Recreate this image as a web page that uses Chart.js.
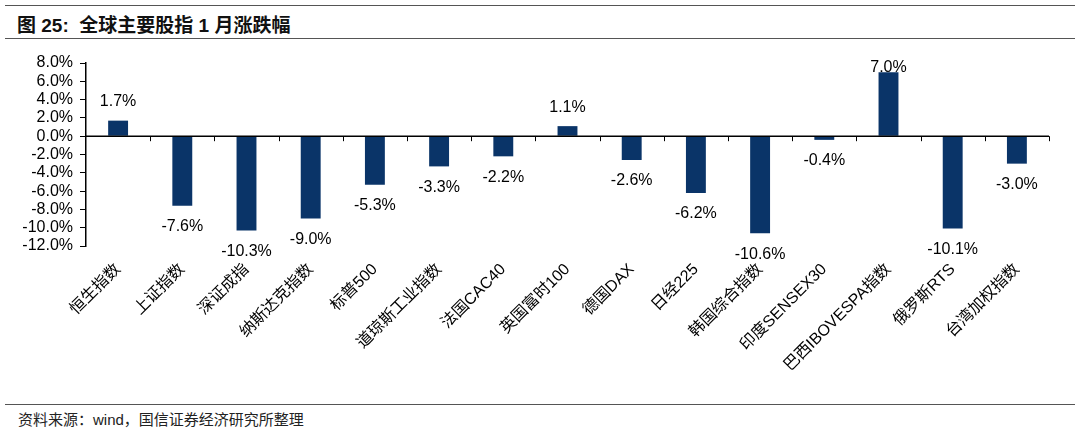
<!DOCTYPE html>
<html><head><meta charset="utf-8">
<script src="https://cdn.jsdelivr.net/npm/chart.js@4/dist/chart.umd.min.js"></script>
<style>
html,body{margin:0;padding:0;background:#fff;width:1080px;height:434px;overflow:hidden;font-family:"Liberation Sans","Noto Sans CJK SC",sans-serif;}
.rule{position:absolute;left:5px;right:5px;height:1px;background:#555;}
#title{position:absolute;left:17px;top:10px;font-size:19px;font-weight:bold;color:#111;font-family:"Liberation Sans","Noto Sans CJK SC",sans-serif;}
#foot{position:absolute;left:18px;top:408px;font-size:15px;color:#222;}
#wrap{position:absolute;left:0;top:40px;width:1080px;height:360px;}
</style></head><body>
<div class="rule" style="top:5px"></div>
<div id="title">图 25:&nbsp; 全球主要股指 1 月涨跌幅</div>
<div class="rule" style="top:38px"></div>
<div id="wrap"><canvas id="c"></canvas></div>
<div class="rule" style="top:404px"></div>
<div id="foot">资料来源：wind，国信证券经济研究所整理</div>
<script>
const categories = ["恒生指数","上证指数","深证成指","纳斯达克指数","标普500","道琼斯工业指数","法国CAC40","英国富时100","德国DAX","日经225","韩国综合指数","印度SENSEX30","巴西IBOVESPA指数","俄罗斯RTS","台湾加权指数"];
const changes = [1.7,-7.6,-10.3,-9.0,-5.3,-3.3,-2.2,1.1,-2.6,-6.2,-10.6,-0.4,7.0,-10.1,-3.0];
const yMin = -12, yMax = 8, yStep = 2;

const FONT = '"Liberation Sans","Noto Sans CJK SC",sans-serif';

const zeroLine = {
  id:'zeroLine',
  afterDatasetsDraw(chart){
    const {ctx, chartArea, scales} = chart;
    const y = scales.y.getPixelForValue(0);
    ctx.save();
    ctx.strokeStyle = '#000'; ctx.lineWidth = 1.5;
    ctx.beginPath(); ctx.moveTo(chartArea.left, y); ctx.lineTo(chartArea.right, y); ctx.stroke();
    const n = categories.length;
    const w = (chartArea.right - chartArea.left) / n;
    ctx.lineWidth = 1;
    ctx.beginPath();
    for (let i = 1; i <= n; i++) {
      const x = Math.round(chartArea.left + i * w) + 0.5;
      ctx.moveTo(x, y); ctx.lineTo(x, y + 5);
    }
    ctx.stroke();
    ctx.restore();
  }
};
const valueLabels = {
  id:'valueLabels',
  afterDatasetsDraw(chart){
    const {ctx, chartArea} = chart;
    const meta = chart.getDatasetMeta(0);
    ctx.save();
    ctx.font = '16px ' + FONT;
    ctx.fillStyle = '#000';
    ctx.textAlign = 'center';
    ctx.textBaseline = 'middle';
    meta.data.forEach((bar, i) => {
      const v = changes[i];
      let y = v >= 0 ? bar.y - 19 : bar.y + 21;
      y = Math.max(y, chartArea.top + 5);
      ctx.fillText(v.toFixed(1) + '%', bar.x, y);
    });
    ctx.restore();
  }
};

new Chart(document.getElementById('c'), {
  type:'bar',
  data:{ labels:categories, datasets:[{ data:changes, backgroundColor:'#0a3468', barPercentage:0.31, categoryPercentage:1 }]},
  options:{
    responsive:true, maintainAspectRatio:false, animation:false,
    layout:{ padding:{ top:23, right:31, left:0, bottom:0 } },
    plugins:{ legend:{display:false}, tooltip:{enabled:false} },
    scales:{
      x:{
        grid:{display:false, drawTicks:false}, border:{display:false},
        ticks:{ color:'#000', font:{size:16, family:FONT}, maxRotation:45, minRotation:45, autoSkip:false, padding:14 },
        afterFit(s){ s.height = 154; }
      },
      y:{
        min:yMin, max:yMax,
        grid:{ drawOnChartArea:false, drawTicks:true, tickLength:6, color:'#000' },
        border:{ display:true, color:'#000', width:1.5 },
        ticks:{ stepSize:yStep, autoSkip:false, color:'#000', font:{size:16, family:FONT}, padding:7, callback:v => v.toFixed(1) + '%' },
        afterFit(s){ s.width = 86; }
      }
    }
  },
  plugins:[zeroLine, valueLabels]
});
</script>
</body></html>
